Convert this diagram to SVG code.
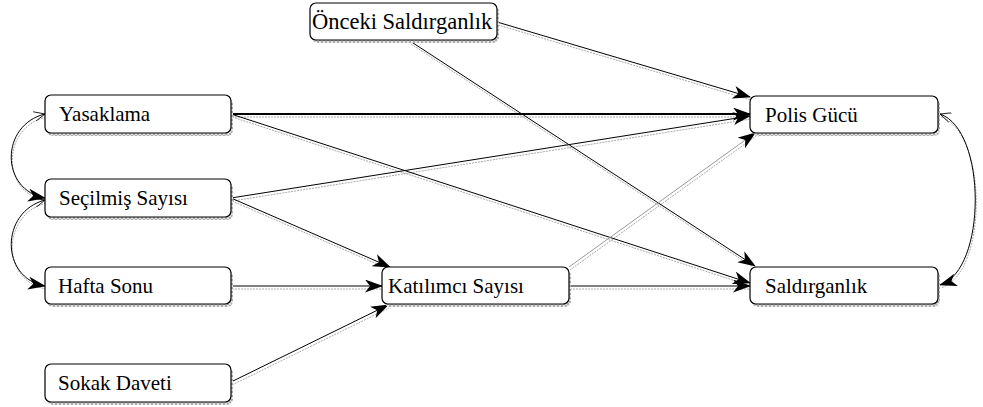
<svg xmlns="http://www.w3.org/2000/svg" width="983" height="407" viewBox="0 0 983 407">
<style>
.box{fill:#fff;stroke:#000;stroke-width:1.2}
.shd{fill:url(#hatch);stroke:none}
.ln{fill:none;stroke:#000;stroke-width:1}
.sh{fill:none;stroke:#aaa;stroke-width:1;stroke-dasharray:2 1}
.thick{stroke-width:2.2}
.faint{stroke:#999}
</style>
<defs>
<pattern id="hatch" width="4" height="4" patternUnits="userSpaceOnUse">
<rect width="4" height="4" fill="#e6e6e6"/>
<path d="M0,0 L4,4 M4,0 L0,4" stroke="#999" stroke-width="0.8"/>
</pattern>
<marker id="af" markerUnits="userSpaceOnUse" markerWidth="20" markerHeight="14" refX="17" refY="6.5" orient="auto">
<path d="M0,0 L18,6.5 L0,13 L5,6.5 z" fill="#000"/>
</marker>
<marker id="ao" markerUnits="userSpaceOnUse" markerWidth="14" markerHeight="12" refX="1" refY="5" orient="auto">
<path d="M12,0 L1,5 L12,10" fill="none" stroke="#000" stroke-width="0.8"/>
</marker>
</defs>
<g id="connectors">
<g transform="translate(1,3)">
<line class="sh" x1="497" y1="22" x2="750" y2="97"/>
<line class="sh" x1="410" y1="41" x2="755" y2="266"/>
<line class="sh" x1="231" y1="114" x2="750" y2="114"/>
<line class="sh" x1="231" y1="114" x2="750" y2="283"/>
<line class="sh" x1="231" y1="198" x2="750" y2="116"/>
<line class="sh" x1="231" y1="198" x2="390" y2="267"/>
<line class="sh" x1="231" y1="286" x2="382" y2="286"/>
<line class="sh" x1="231" y1="382" x2="388" y2="305"/>
<line class="sh" x1="569" y1="286" x2="750" y2="286"/>
<line class="sh" x1="569" y1="267" x2="755" y2="133"/>
<path class="sh" d="M45,114 C0,125 0,190 45,198"/>
<path class="sh" d="M45,200 C0,212 0,278 45,286"/>
<path class="sh" d="M940,114 C987,130 987,270 940,285"/>
</g>
<line class="ln" x1="497" y1="22" x2="750" y2="97" marker-end="url(#af)"/>
<line class="ln" x1="410" y1="41" x2="755" y2="266" marker-end="url(#af)"/>
<line class="ln thick" x1="231" y1="114" x2="750" y2="114" marker-end="url(#af)"/>
<line class="ln" x1="231" y1="114" x2="750" y2="283" marker-end="url(#af)"/>
<line class="ln" x1="231" y1="198" x2="750" y2="116" marker-end="url(#af)"/>
<line class="ln" x1="231" y1="198" x2="390" y2="267" marker-end="url(#af)"/>
<line class="ln" x1="231" y1="286" x2="382" y2="286" marker-end="url(#af)"/>
<line class="ln" x1="231" y1="382" x2="388" y2="305" marker-end="url(#af)"/>
<line class="ln" x1="569" y1="286" x2="750" y2="286" marker-end="url(#af)"/>
<line class="ln faint" x1="569" y1="267" x2="755" y2="133" marker-end="url(#af)"/>
<path class="ln" d="M45,114 C0,125 0,190 45,198" marker-start="url(#ao)" marker-end="url(#af)"/>
<path class="ln" d="M45,200 C0,212 0,278 45,286" marker-start="url(#ao)" marker-end="url(#af)"/>
<path class="ln" d="M940,114 C987,130 987,270 940,285" marker-start="url(#ao)" marker-end="url(#af)"/>
</g>
<g font-family="'Liberation Serif', 'Times New Roman', 'DejaVu Serif', serif" font-size="21" fill="#000">
<g id="n-onceki">
<rect class="shd" x="312" y="6" width="187" height="37" rx="6"/>
<rect class="box" x="310" y="3" width="187" height="37" rx="6"/>
<text x="312" y="29" font-size="22.5">Önceki Saldırganlık</text>
</g>
<g id="n-yasaklama">
<rect class="shd" x="47" y="98" width="186" height="38" rx="6"/>
<rect class="box" x="45" y="95" width="186" height="38" rx="6"/>
<text x="59" y="121">Yasaklama</text>
</g>
<g id="n-secilmis">
<rect class="shd" x="47" y="182" width="186" height="38" rx="6"/>
<rect class="box" x="45" y="179" width="186" height="38" rx="6"/>
<text x="59" y="205">Seçilmiş Sayısı</text>
</g>
<g id="n-hafta">
<rect class="shd" x="47" y="270" width="186" height="37" rx="6"/>
<rect class="box" x="45" y="267" width="186" height="37" rx="6"/>
<text x="58" y="293">Hafta Sonu</text>
</g>
<g id="n-sokak">
<rect class="shd" x="47" y="367" width="186" height="38" rx="6"/>
<rect class="box" x="45" y="364" width="186" height="38" rx="6"/>
<text x="58" y="390">Sokak Daveti</text>
</g>
<g id="n-katilimci">
<rect class="shd" x="384" y="270" width="187" height="37" rx="6"/>
<rect class="box" x="382" y="267" width="187" height="37" rx="6"/>
<text x="388" y="293">Katılımcı Sayısı</text>
</g>
<g id="n-polis">
<rect class="shd" x="752" y="99" width="188" height="37" rx="6"/>
<rect class="box" x="750" y="96" width="188" height="37" rx="6"/>
<text x="765" y="122">Polis Gücü</text>
</g>
<g id="n-saldirganlik">
<rect class="shd" x="752" y="270" width="188" height="37" rx="6"/>
<rect class="box" x="750" y="267" width="188" height="37" rx="6"/>
<text x="765" y="293">Saldırganlık</text>
</g>
</g>
</svg>
